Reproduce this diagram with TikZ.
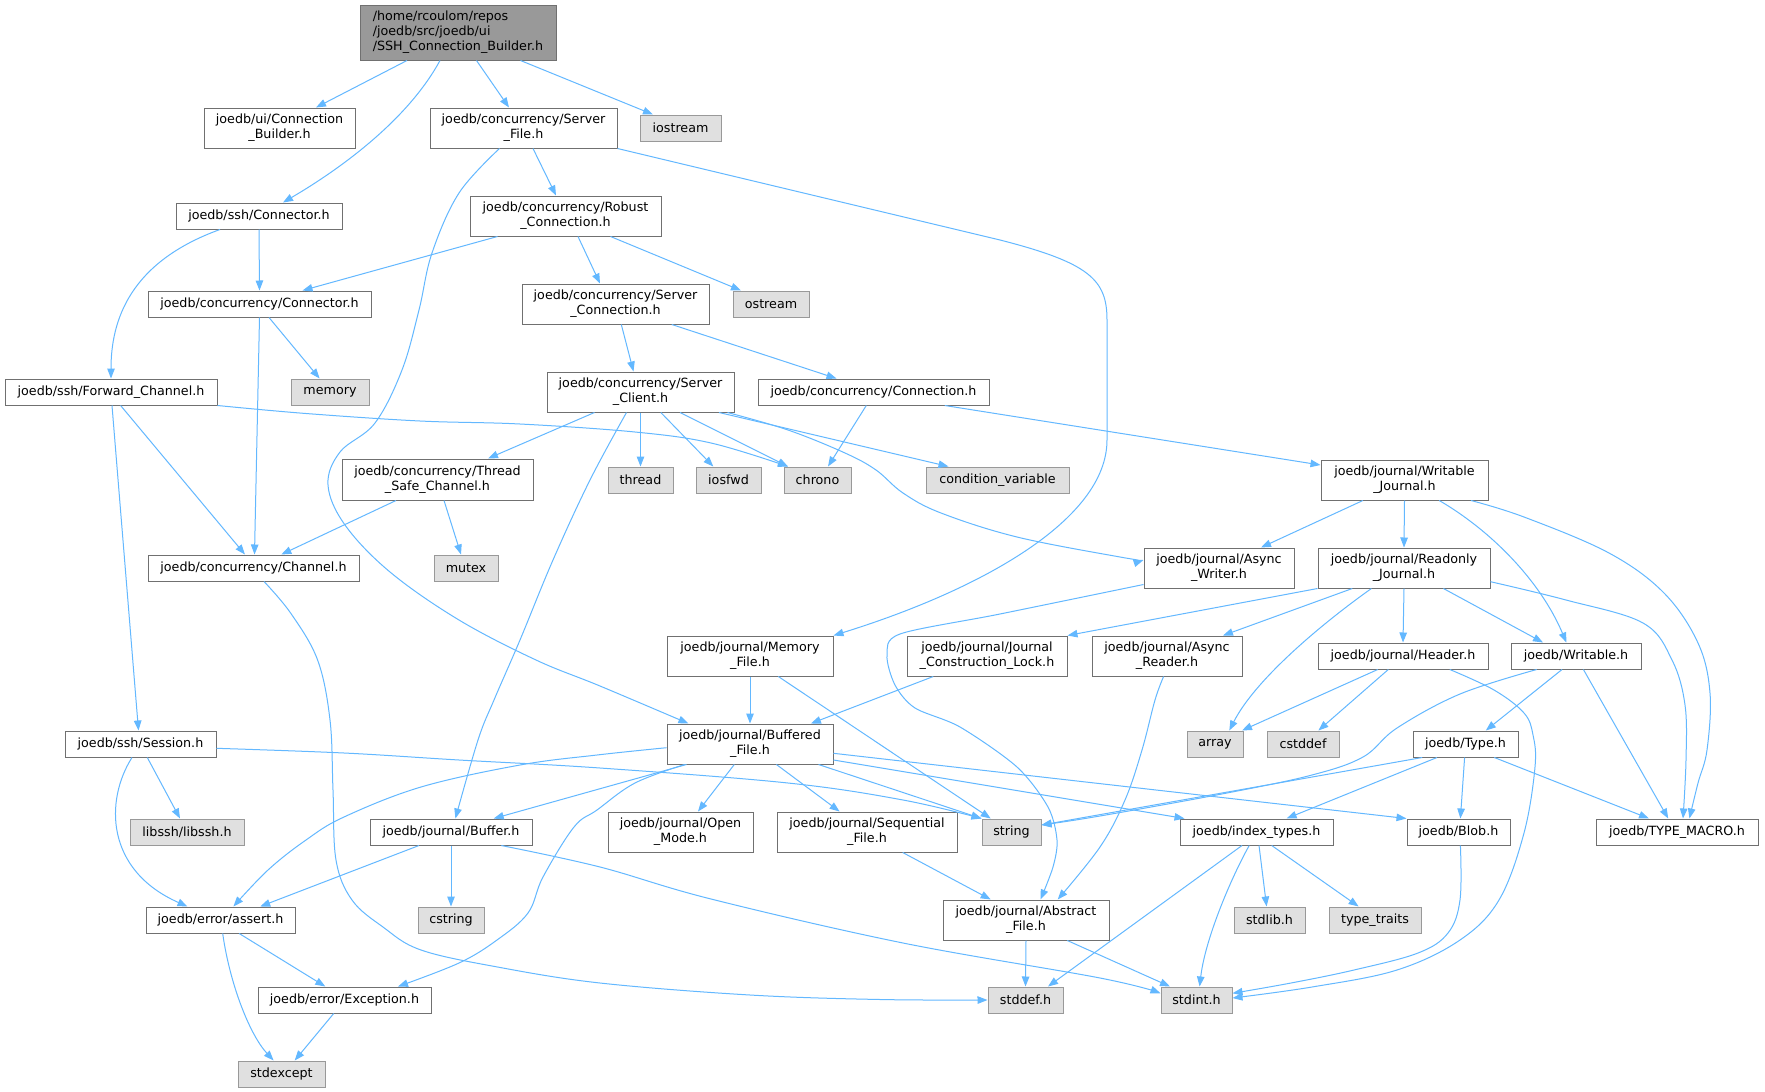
\documentclass[tikz,border=0pt]{standalone}
\usepackage{fontspec}
\setmainfont{DejaVu Sans}
\usetikzlibrary{arrows.meta}
\definecolor{edgec}{HTML}{63B8FF}
\definecolor{bord}{HTML}{707070}
\definecolor{sysfill}{HTML}{E0E0E0}
\definecolor{sysbord}{HTML}{999999}
\definecolor{mainfill}{HTML}{999999}
\tikzset{
 nd/.style={draw=bord, fill=white, line width=1pt, inner sep=0pt, align=center, font=\fontsize{12.7}{15}\selectfont},
 sys/.style={nd, draw=sysbord, fill=sysfill},
 mainnd/.style={nd, draw=bord, fill=mainfill, align=left},
 dep/.style={draw=edgec, line width=1pt, -{Triangle[length=10pt,width=7.5pt]}},
}
\newcommand\nbox[7][nd]{\node[#1, minimum width={(#5-#3)*1pt}, minimum height={(#6-#4)*1pt}] (#2) at ({(#3+#5)/2},{(#4+#6)/2}) {#7};}
\begin{document}
\begin{tikzpicture}[x=1pt,y=-1pt]
\fill[white] (0,0) rectangle (1765,1092);
\useasboundingbox (0,0) rectangle (1765,1092);
\nbox[mainnd]{main}{360}{5}{556}{60}{/home/rcoulom/repos\\/joedb/src/joedb/ui\\/SSH\_Connection\_Builder.h}
\nbox{ConnBuilder}{204}{108}{355}{148}{joedb/ui/Connection\\\_Builder.h}
\nbox{ServerFile}{430}{108}{617}{148}{joedb/concurrency/Server\\\_File.h}
\nbox[sys]{iostream}{640}{115}{721}{141}{iostream}
\nbox{sshConn}{176}{203}{342}{229}{joedb/ssh/Connector.h}
\nbox{Robust}{470}{196}{661}{236}{joedb/concurrency/Robust\\\_Connection.h}
\nbox{concConn}{148}{291}{371}{317}{joedb/concurrency/Connector.h}
\nbox{ServerConn}{522}{284}{709}{324}{joedb/concurrency/Server\\\_Connection.h}
\nbox[sys]{ostream}{733}{291}{809}{317}{ostream}
\nbox{FwdChan}{5}{379}{217}{405}{joedb/ssh/Forward\_Channel.h}
\nbox[sys]{memory}{291}{379}{369}{405}{memory}
\nbox{ServerClient}{547}{372}{734}{412}{joedb/concurrency/Server\\\_Client.h}
\nbox{Connection}{758}{379}{989}{405}{joedb/concurrency/Connection.h}
\nbox{ThreadSafe}{342}{459}{533}{500}{joedb/concurrency/Thread\\\_Safe\_Channel.h}
\nbox[sys]{thread}{608}{467}{673}{493}{thread}
\nbox[sys]{iosfwd}{696}{467}{761}{493}{iosfwd}
\nbox[sys]{chrono}{784}{467}{851}{493}{chrono}
\nbox[sys]{condvar}{926}{467}{1069}{493}{condition\_variable}
\nbox{WJournal}{1321}{460}{1488}{500}{joedb/journal/Writable\\\_Journal.h}
\nbox{Channel}{148}{555}{359}{581}{joedb/concurrency/Channel.h}
\nbox[sys]{mutex}{434}{555}{498}{581}{mutex}
\nbox{AsyncWriter}{1144}{548}{1294}{588}{joedb/journal/Async\\\_Writer.h}
\nbox{RJournal}{1318}{548}{1490}{588}{joedb/journal/Readonly\\\_Journal.h}
\nbox{MemoryFile}{667}{636}{833}{676}{joedb/journal/Memory\\\_File.h}
\nbox{JCLock}{907}{636}{1067}{676}{joedb/journal/Journal\\\_Construction\_Lock.h}
\nbox{AsyncReader}{1092}{636}{1242}{676}{joedb/journal/Async\\\_Reader.h}
\nbox{Header}{1318}{643}{1488}{669}{joedb/journal/Header.h}
\nbox{Writable}{1511}{643}{1641}{669}{joedb/Writable.h}
\nbox{Session}{65}{731}{216}{757}{joedb/ssh/Session.h}
\nbox{BufFile}{667}{724}{833}{764}{joedb/journal/Buffered\\\_File.h}
\nbox[sys]{array}{1187}{731}{1243}{757}{array}
\nbox[sys]{cstddef}{1267}{731}{1339}{757}{cstddef}
\nbox{TypeH}{1413}{731}{1518}{757}{joedb/Type.h}
\nbox[sys]{libssh}{130}{819}{244}{845}{libssh/libssh.h}
\nbox{Buffer}{370}{819}{532}{845}{joedb/journal/Buffer.h}
\nbox{OpenMode}{608}{812}{753}{852}{joedb/journal/Open\\\_Mode.h}
\nbox{SeqFile}{777}{812}{957}{852}{joedb/journal/Sequential\\\_File.h}
\nbox[sys]{string}{982}{819}{1041}{845}{string}
\nbox{indextypes}{1180}{819}{1333}{845}{joedb/index\_types.h}
\nbox{Blob}{1407}{819}{1510}{845}{joedb/Blob.h}
\nbox{TypeMacro}{1596}{819}{1758}{845}{joedb/TYPE\_MACRO.h}
\nbox{assert}{146}{907}{295}{933}{joedb/error/assert.h}
\nbox[sys]{cstring}{418}{907}{484}{933}{cstring}
\nbox{AbstractFile}{943}{900}{1109}{940}{joedb/journal/Abstract\\\_File.h}
\nbox[sys]{stdlib}{1234}{907}{1305}{933}{stdlib.h}
\nbox[sys]{typetraits}{1329}{907}{1421}{933}{type\_traits}
\nbox{Exception}{258}{987}{431}{1013}{joedb/error/Exception.h}
\nbox[sys]{stddef}{988}{987}{1063}{1013}{stddef.h}
\nbox[sys]{stdint}{1161}{987}{1232}{1013}{stdint.h}
\nbox[sys]{stdexcept}{238}{1061}{325}{1087}{stdexcept}
% edges
\draw[dep] ([xshift=-51pt]main.south) -- ([xshift=36.5pt]ConnBuilder.north);
\draw[dep] ([xshift=-18pt]main.south) .. controls (405,125) and (330,175) .. ([xshift=24pt]sshConn.north);
\draw[dep] ([xshift=18.5pt]main.south) -- ([xshift=-14.5pt]ServerFile.north);
\draw[dep] ([xshift=62.5pt]main.south) -- ([xshift=-27.5pt]iostream.north);
\draw[dep] ([xshift=9.5pt]ServerFile.south) -- ([xshift=-9.5pt]Robust.north);
\draw[dep] plot[smooth,tension=0.6] coordinates {([xshift=-24pt]ServerFile.south) (459,193) (432,253) (419,310) (402,370) (375,423) (340,452) (328,485) (345,525) (390,572) (459,620) (536,660) (600,686) ([xshift=-61.6pt]BufFile.north)};
\draw[dep] (ServerFile.south east) -- (1000,240) .. controls (1090,263) and (1107,280) .. (1107,320) -- (1107,440) .. controls (1107,520) and (980,590) .. (MemoryFile.north east);
\draw[dep] (sshConn.south) -- (concConn.north);
\draw[dep] ([xshift=-39pt]sshConn.south) .. controls (130,262) and (111,320) .. (FwdChan.north);
\draw[dep] ([xshift=-68pt]Robust.south) -- ([xshift=43pt]concConn.north);
\draw[dep] ([xshift=12.5pt]Robust.south) -- ([xshift=-15.5pt]ServerConn.north);
\draw[dep] ([xshift=45pt]Robust.south) -- ([xshift=-30pt]ostream.north);
\draw[dep] ([xshift=9.5pt]concConn.south) -- ([xshift=-10.4pt]memory.north);
\draw[dep] (concConn.south) -- ([xshift=1pt]Channel.north);
\draw[dep] ([xshift=5.8pt]ServerConn.south) -- ([xshift=-7pt]ServerClient.north);
\draw[dep] ([xshift=56.3pt]ServerConn.south) -- ([xshift=-37pt]Connection.north);
\draw[dep] ([xshift=9.6pt]FwdChan.south) -- ([xshift=-8.5pt]Channel.north);
\draw[dep] ([xshift=1pt]FwdChan.south) -- ([xshift=-2pt]Session.north);
\draw[dep] plot[smooth,tension=0.6] coordinates {(FwdChan.south east) (306,413.5) (420,421) (520,424) (635,432) (711,443) ([xshift=-29.5pt]chrono.north)};
\draw[dep] ([xshift=-46pt]ServerClient.south) -- ([xshift=50.5pt]ThreadSafe.north);
\draw[dep] (ServerClient.south) -- (thread.north);
\draw[dep] ([xshift=20.3pt]ServerClient.south) -- ([xshift=-15.2pt]iosfwd.north);
\draw[dep] ([xshift=39.5pt]ServerClient.south) -- ([xshift=-29.5pt]chrono.north);
\draw[dep] ([xshift=78.5pt]ServerClient.south) -- ([xshift=-49pt]condvar.north);
\draw[dep] plot[smooth,tension=0.6] coordinates {([xshift=-7pt]ServerClient.south east) (788,430) (845,453) (876,470) (903,493) (941,513) (1017,537) (1120,557) ([yshift=8pt]AsyncWriter.west)};
\draw[dep] plot[smooth,tension=0.6] coordinates {([xshift=-14pt]ServerClient.south) (590,480) (553,560) (520,640) (494,700) (478,740) ([xshift=4.4pt]Buffer.north)};
\draw[dep] ([xshift=-7.2pt]Connection.south) -- ([xshift=10.5pt]chrono.north);
\draw[dep] ([xshift=71.3pt]Connection.south) -- ([yshift=15pt]WJournal.west);
\draw[dep] ([xshift=-41.5pt]ThreadSafe.south) -- ([xshift=27.8pt]Channel.north);
\draw[dep] ([xshift=6.5pt]ThreadSafe.south) -- ([xshift=-5pt]mutex.north);
\draw[dep] plot[smooth,tension=0.6] coordinates {([xshift=10.5pt]Channel.south) (290.8,613.3) (317.6,660) (330,720) (333,790) (336,860) (352,900) (383,927) (421,950) (497.5,967) (600,983) (750,995) (880,999.5) (stddef.west)};
\draw[dep] ([xshift=-41.6pt]WJournal.south) -- ([xshift=42pt]AsyncWriter.north);
\draw[dep] (WJournal.south) -- (RJournal.north);
\draw[dep] ([xshift=34.7pt]WJournal.south) .. controls (1490,530) and (1540,580) .. ([xshift=-9.6pt]Writable.north);
\draw[dep] plot[smooth,tension=0.6] coordinates {([xshift=66.5pt]WJournal.south) (1524,517) (1609,553) (1664,593) (1698,643) (1710,693) (1707,750) (1698,783) ([xshift=12.4pt]TypeMacro.north)};
\draw[dep] plot[smooth,tension=0.5] coordinates {([yshift=4pt]AsyncWriter.south west) (1000,614) (900,634) (887,655) (895,685) (915,708) (960,727) (1017,767) (1048,807) (1057,840) (1053,867) ([xshift=14.5pt]AbstractFile.north)};
\draw[dep] (RJournal.south west) -- (JCLock.north east);
\draw[dep] ([xshift=-51.7pt]RJournal.south) -- ([xshift=56pt]AsyncReader.north);
\draw[dep] ([xshift=-32.6pt]RJournal.south) .. controls (1320,625) and (1255,680) .. ([xshift=14.3pt]array.north);
\draw[dep] (RJournal.south) -- (Header.north);
\draw[dep] ([xshift=39.4pt]RJournal.south) -- ([xshift=-33pt]Writable.north);
\draw[dep] plot[smooth,tension=0.6] coordinates {([yshift=-13.7pt]RJournal.east) (1566,600) (1643,623) (1672,660) (1685,705) (1686,760) ([xshift=6pt]TypeMacro.north)};
\draw[dep] ([xshift=-53.7pt]JCLock.south) -- ([xshift=60.9pt]BufFile.north);
\draw[dep] plot[smooth,tension=0.6] coordinates {([xshift=-3.4pt]AsyncReader.south) (1155,700) (1142,750) (1125,800) (1100,847) ([xshift=31.7pt]AbstractFile.north)};
\draw[dep] (MemoryFile.south) -- (BufFile.north);
\draw[dep] ([xshift=28.3pt]MemoryFile.south) -- ([xshift=-20.8pt]string.north);
\draw[dep] ([xshift=-25.3pt]Header.south) -- ([xshift=27pt]array.north);
\draw[dep] ([xshift=-14.7pt]Header.south) -- ([xshift=15.4pt]cstddef.north);
\draw[dep] plot[smooth,tension=0.6] coordinates {([xshift=46.8pt]Header.south) (1494,690) (1524,713) (1533,735) (1535,767) (1524,833) (1499,900) (1460,940) (1397,970) (1312,987) ([yshift=2pt]stdint.east)};
\draw[dep] ([xshift=-14pt]Writable.south) -- ([xshift=20.3pt]TypeH.north);
\draw[dep] ([xshift=7.4pt]Writable.south) -- ([xshift=-8.8pt]TypeMacro.north);
\draw[dep] plot[smooth,tension=0.6] coordinates {([xshift=-39.3pt]Writable.south) (1460,694) (1397,728) (1363,757) (1312,775) (1227,793) (1100,816) ([yshift=7pt]string.east)};
\draw[dep] ([xshift=-43.3pt]TypeH.south) -- ([yshift=7pt]string.east);
\draw[dep] ([xshift=-28.5pt]TypeH.south) -- ([xshift=30.1pt]indextypes.north);
\draw[dep] ([xshift=-0.9pt]TypeH.south) -- ([xshift=1.9pt]Blob.north);
\draw[dep] ([xshift=28.8pt]TypeH.south) -- ([xshift=-28pt]TypeMacro.north);
\draw[dep] ([xshift=6.8pt]Session.south) -- ([xshift=-7pt]libssh.north);
\draw[dep] ([xshift=-8.5pt]Session.south) .. controls (105,800) and (105,870) .. ([xshift=-33pt]assert.north);
\draw[dep] plot[smooth,tension=0.6] coordinates {([yshift=-4.3pt]Session.east) (344,753) (459,760) (600,768) (788,783) (903,800) (string.north west)};
\draw[dep] plot[smooth,tension=0.6] coordinates {([yshift=-3.7pt]BufFile.west) (597,755) (520,765) (421,787) (344,817) (306,840) (268,870) ([xshift=12.9pt]assert.north)};
\draw[dep] ([xshift=-63.5pt]BufFile.south) -- ([xshift=42.7pt]Buffer.north);
\draw[dep] plot[smooth,tension=0.6] coordinates {([xshift=-65.4pt]BufFile.south) (635,783) (597,810) (574,827) (543,877) (528,913) (497,940) (459,963) ([xshift=53.5pt]Exception.north)};
\draw[dep] ([xshift=-15.7pt]BufFile.south) -- ([xshift=17.5pt]OpenMode.north);
\draw[dep] ([xshift=26.4pt]BufFile.south) -- ([xshift=-27.4pt]SeqFile.north);
\draw[dep] ([xshift=68.5pt]BufFile.south) -- (string.north west);
\draw[dep] ([yshift=-16pt]BufFile.east) -- ([xshift=5pt]indextypes.north west);
\draw[dep] ([yshift=-9.3pt]BufFile.east) -- (Blob.north west);
\draw[dep] ([xshift=-32pt]Buffer.south) -- ([xshift=39.7pt]assert.north);
\draw[dep] (Buffer.south) -- (cstring.north);
\draw[dep] plot[smooth,tension=0.6] coordinates {([xshift=50.3pt]Buffer.south) (600,867) (711,899) (903,943) (1100,978) ([yshift=6.7pt]stdint.west)};
\draw[dep] ([xshift=35.7pt]SeqFile.south) -- ([xshift=-35.3pt]AbstractFile.north);
\draw[dep] (AbstractFile.south) -- (stddef.north);
\draw[dep] ([xshift=41.3pt]AbstractFile.south) -- ([xshift=-26.5pt]stdint.north);
\draw[dep] ([xshift=-14.5pt]indextypes.south) -- ([xshift=22.5pt]stddef.north);
\draw[dep] ([xshift=-7.3pt]indextypes.south) .. controls (1230,880) and (1205,940) .. ([xshift=3.1pt]stdint.north);
\draw[dep] ([xshift=2.5pt]indextypes.south) -- ([xshift=-2.9pt]stdlib.north);
\draw[dep] ([xshift=15.2pt]indextypes.south) -- ([xshift=-16.4pt]typetraits.north);
\draw[dep] plot[smooth,tension=0.6] coordinates {([xshift=1.9pt]Blob.south) (1460,900) (1448,933) (1418,953) (1354,970) (1291,983) ([yshift=6.7pt]stdint.east)};
\draw[dep] ([xshift=2.2pt]assert.south) .. controls (230,985) and (250,1035) .. ([xshift=-7.9pt]stdexcept.north);
\draw[dep] ([xshift=18.7pt]assert.south) -- ([xshift=-19.2pt]Exception.north);
\draw[dep] ([xshift=-10.8pt]Exception.south) -- ([xshift=13.2pt]stdexcept.north);
\end{tikzpicture}
\end{document}
